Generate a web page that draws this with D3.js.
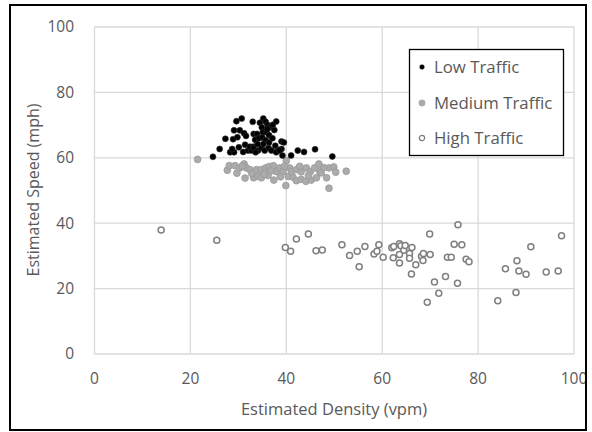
<!DOCTYPE html>
<html><head><meta charset="utf-8">
<script src="https://cdn.jsdelivr.net/npm/d3@7"></script>
<style>body{margin:0;background:#fff}svg{display:block}text{font-family:"Open Sans","Liberation Sans",sans-serif;fill:#595959}</style>
</head><body><div id="c"></div>
<script>
const xTicks=[0,20,40,60,80,100];
const yTicks=[0,20,40,60,80,100];
const seriesNames=["Low Traffic","Medium Traffic","High Traffic"];
const lowTraffic=[[24.7,60.3],[26.1,62.7],[27.3,65.8],[28.9,65.7],[28.3,61.7],[29.1,61.7],[28.7,62.7],[29.1,68.4],[30.3,68.4],[29.6,71.2],[30.7,72.0],[31.2,67.5],[31.6,66.7],[31.4,64.0],[32.0,62.2],[32.7,62.2],[32.4,63.4],[33.1,63.4],[33.0,71.0],[33.2,67.3],[33.9,67.3],[33.5,65.5],[34.5,70.7],[35.2,72.0],[35.7,71.0],[34.9,69.3],[36.1,70.0],[36.5,69.3],[37.2,70.1],[37.9,71.1],[35.1,67.8],[35.9,67.8],[34.3,66.0],[35.0,66.2],[35.7,65.4],[33.2,63.0],[34.1,62.2],[34.8,63.0],[35.5,62.2],[36.3,63.0],[36.9,62.2],[34.0,64.2],[35.2,64.2],[36.4,64.7],[36.4,66.9],[37.1,66.0],[37.7,63.7],[38.3,62.4],[39.0,62.7],[39.0,65.0],[39.5,64.7],[37.9,61.7],[38.6,62.2],[39.2,60.7],[41.0,60.7],[42.4,62.2],[43.7,61.8],[46.0,62.6],[49.6,60.4],[30.1,63.2],[31.0,61.8],[36.0,68.8],[33.6,61.7],[37.5,68.5],[29.8,66.3]];
const mediumTraffic=[[21.5,59.5],[27.7,56.2],[28.1,57.6],[29.3,57.6],[30.3,56.9],[31.2,58.1],[31.7,56.9],[32.4,56.4],[31.4,53.8],[33.2,53.9],[34.1,54.4],[34.8,53.9],[33.8,56.4],[34.8,56.4],[35.7,56.9],[36.4,57.3],[37.3,57.6],[36.2,54.6],[37.4,53.2],[37.9,55.8],[38.6,56.9],[39.3,55.8],[40.0,59.1],[40.7,56.9],[39.9,51.5],[40.4,54.3],[41.4,54.1],[42.1,53.0],[43.1,53.4],[44.1,52.8],[41.1,55.8],[42.1,56.4],[43.1,55.7],[44.2,56.9],[45.0,55.7],[45.9,56.9],[46.8,58.1],[47.0,55.8],[45.2,53.2],[46.3,53.9],[47.3,55.4],[48.4,53.9],[48.9,50.7],[48.9,56.9],[49.9,57.2],[50.3,55.6],[52.5,55.9],[29.7,55.3],[32.8,55.2],[35.4,55.0],[38.8,54.2],[42.8,57.4],[44.6,54.5],[39.6,57.4],[36.8,56.0],[30.8,57.5],[47.8,57.0]];
const highTraffic=[[13.9,37.9],[25.5,34.8],[39.8,32.6],[40.9,31.4],[42.1,35.2],[44.6,36.7],[46.2,31.6],[47.5,31.8],[51.6,33.4],[53.2,30.1],[54.8,31.4],[55.2,26.7],[56.4,32.9],[58.3,30.6],[58.9,31.4],[59.3,33.4],[60.2,29.6],[62.0,32.5],[62.4,32.9],[62.3,29.4],[63.6,33.7],[63.9,33.1],[63.6,27.8],[64.5,31.7],[64.8,33.2],[65.7,30.7],[65.7,29.3],[66.2,32.6],[66.1,24.5],[67.0,27.3],[68.2,29.9],[68.6,30.7],[68.5,28.6],[69.9,36.7],[70.0,30.4],[70.9,22.0],[69.4,15.8],[71.8,18.6],[73.2,23.7],[73.6,29.6],[74.4,29.6],[75.0,33.6],[75.8,39.5],[76.6,33.4],[75.7,21.6],[77.5,29.0],[78.1,28.2],[97.4,36.2],[91.0,32.8],[88.1,28.5],[85.7,26.1],[88.5,25.4],[90.0,24.4],[94.2,25.1],[96.7,25.4],[87.9,18.8],[84.1,16.3],[63.6,30.4]];

const W=592,H=432;
const svg=d3.select("#c").append("svg").attr("width",W).attr("height",H);
const x=d3.scaleLinear().domain([0,100]).range([94.5,574]);
const y=d3.scaleLinear().domain([0,100]).range([354,27]);
const grid="#d9d9d9";

svg.append("g").selectAll("line").data(yTicks).join("line")
 .attr("x1",x(0)).attr("x2",x(100)).attr("y1",d=>y(d)).attr("y2",d=>y(d))
 .attr("stroke",grid).attr("stroke-width",1.3);
svg.append("g").selectAll("line").data(xTicks).join("line")
 .attr("y1",y(0)).attr("y2",y(100)).attr("x1",d=>x(d)).attr("x2",d=>x(d))
 .attr("stroke",grid).attr("stroke-width",1.3);

svg.append("g").selectAll("text").data(yTicks).join("text")
 .attr("x",74).attr("y",d=>y(d)).attr("dy","0.35em").attr("text-anchor","end")
 .attr("font-size",15.5).text(d=>d);
svg.append("g").selectAll("text").data(xTicks).join("text")
 .attr("x",d=>x(d)).attr("y",379).attr("dy","0.35em").attr("text-anchor","middle")
 .attr("font-size",15.5).text(d=>d);

svg.append("text").attr("transform","translate(33,190) rotate(-90)")
 .attr("text-anchor","middle").attr("dy","0.35em").attr("font-size",16).text("Estimated Speed (mph)");
svg.append("text").attr("x",334).attr("y",409).attr("dy","0.35em")
 .attr("text-anchor","middle").attr("font-size",16.5).text("Estimated Density (vpm)");

svg.append("g").selectAll("circle").data(highTraffic).join("circle")
 .attr("cx",d=>x(d[0])).attr("cy",d=>y(d[1])).attr("r",3)
 .attr("fill","#fff").attr("stroke","#7f7f7f").attr("stroke-width",1.5);
svg.append("g").selectAll("circle").data(mediumTraffic).join("circle")
 .attr("cx",d=>x(d[0])).attr("cy",d=>y(d[1])).attr("r",3.4)
 .attr("fill","#ababab").attr("stroke","#999").attr("stroke-width",0.8);
svg.append("g").selectAll("circle").data(lowTraffic).join("circle")
 .attr("cx",d=>x(d[0])).attr("cy",d=>y(d[1])).attr("r",3)
 .attr("fill","#000").attr("stroke","#333").attr("stroke-width",0.6);

const lg=svg.append("g");
lg.append("rect").attr("x",409.5).attr("y",49.5).attr("width",154).attr("height",106)
 .attr("fill","#fff").attr("stroke","#000").attr("stroke-width",1.3);
const ly=[67,103,138];
const items=lg.selectAll("g").data(seriesNames).join("g").attr("transform",(d,i)=>`translate(0,${ly[i]})`);
items.append("circle").attr("cx",422).attr("cy",0)
 .attr("r",(d,i)=>[2.3,3.2,2.6][i])
 .attr("fill",(d,i)=>["#000","#ababab","#fff"][i])
 .attr("stroke",(d,i)=>["#000","#ababab","#7f7f7f"][i])
 .attr("stroke-width",(d,i)=>[0.5,0.5,1.3][i]);
items.append("text").attr("x",434).attr("y",0).attr("dy","0.35em").attr("font-size",16.8).text(d=>d);

svg.append("rect").attr("x",10).attr("y",5).attr("width",576).attr("height",425)
 .attr("fill","none").attr("stroke","#000").attr("stroke-width",2);
</script></body></html>
